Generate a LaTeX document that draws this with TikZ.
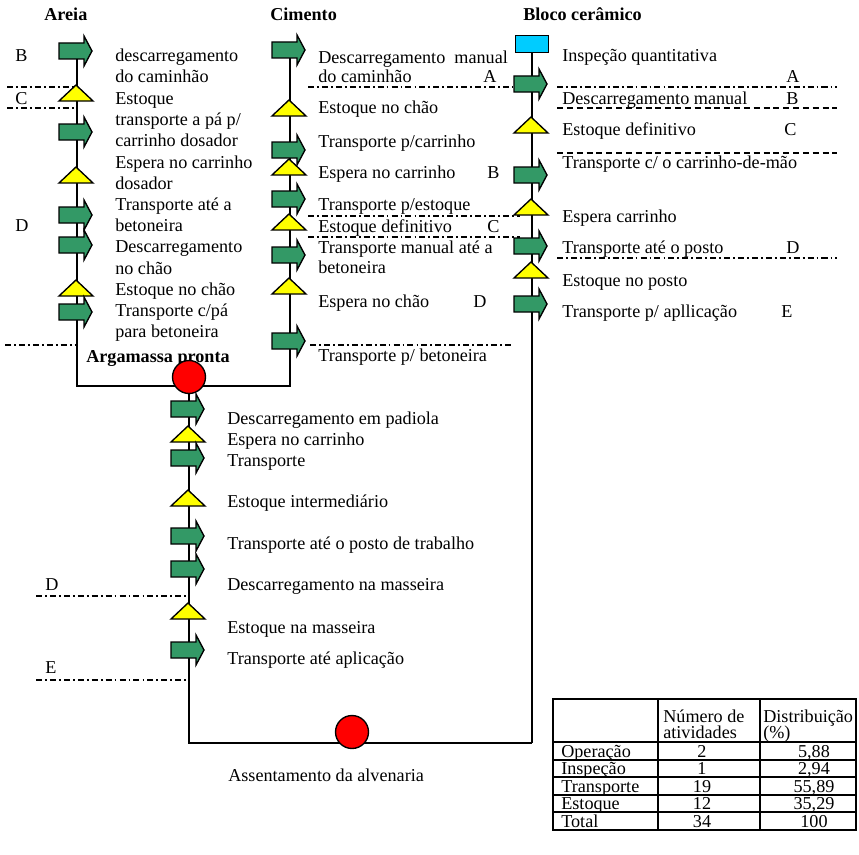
\documentclass[tikz,border=0pt]{standalone}
\usepackage{fontspec}
\setmainfont{Liberation Serif}
\usetikzlibrary{backgrounds}
\definecolor{movgreen}{RGB}{51,153,102}
\definecolor{stockyellow}{RGB}{255,255,0}
\definecolor{inspcyan}{RGB}{0,204,255}
\definecolor{opred}{RGB}{255,0,0}

\begin{document}
\begin{tikzpicture}[
    x=0.661pt, y=-0.661pt,
    every node/.style={font=\fontsize{12}{14}\selectfont},
    txt/.style={anchor=base west, inner sep=0pt},
    head/.style={txt, font=\fontsize{12}{14}\selectfont\bfseries},
    num/.style={anchor=base, inner sep=0pt},
    flow/.style={line width=1.2pt},
    cut/.style={line width=1.2pt, dash pattern=on 4pt off 2pt on 1.2pt off 2pt},
    cutdash/.style={line width=1.2pt, dash pattern=on 4pt off 2.5pt},
    grid/.style={line width=0.8pt},
    op/.style={circle, draw, fill=opred, line width=0.9pt, minimum size=21.8pt, inner sep=0pt},
    insp/.style={rectangle, draw, fill=inspcyan, line width=0.9pt, minimum width=21.8pt, minimum height=11.2pt, inner sep=0pt},
    mov/.pic={\draw[fill=movgreen, line width=0.9pt] (-18,-8) -- (7,-8) -- (7,-15) -- (15,0) -- (7,15) -- (7,8) -- (-18,8) -- cycle;},
    stock/.pic={\draw[fill=stockyellow, line width=0.9pt] (-18,8) -- (16,8) -- (-1,-8) -- cycle;}
]
\useasboundingbox (0,0) rectangle (859,854);

% Titles
\node[head] (tAreia) at (44,21) {Areia};
\node[head] (tCimento) at (270,21) {Cimento};
\node[head] (tBloco) at (523,21) {Bloco cerâmico};

% Areia column
\coordinate (a1) at (77,51);  \coordinate (a2) at (77,93);  \coordinate (a3) at (77,132);
\coordinate (a4) at (77,175); \coordinate (a5) at (77,215); \coordinate (a6) at (77,245);
\coordinate (a7) at (77,288); \coordinate (a8) at (77,312); \coordinate (aEnd) at (77,386);
\pic at (a1) {mov}; \pic at (a2) {stock}; \pic at (a3) {mov}; \pic at (a4) {stock};
\pic at (a5) {mov}; \pic at (a6) {mov}; \pic at (a7) {stock}; \pic at (a8) {mov};

\node[txt] (ta1) at (115,62) {descarregamento};
\node[txt] (ta2) at (115,83) {do caminhão};
\node[txt] (ta3) at (115,104) {Estoque};
\node[txt] (ta4) at (115,125) {transporte a pá p/};
\node[txt] (ta5) at (115,146) {carrinho dosador};
\node[txt] (ta6) at (115,168) {Espera no carrinho};
\node[txt] (ta7) at (115,189) {dosador};
\node[txt] (ta8) at (115,210) {Transporte até a};
\node[txt] (ta9) at (115,231) {betoneira};
\node[txt] (ta10) at (115,252) {Descarregamento};
\node[txt] (ta11) at (115,274) {no chão};
\node[txt] (ta12) at (115,295) {Estoque no chão};
\node[txt] (ta13) at (115,316) {Transporte c/pá};
\node[txt] (ta14) at (115,337) {para betoneira};
\node[txt] (la1) at (15,62) {B};
\node[txt] (la2) at (15,104) {C};
\node[txt] (la3) at (15,231) {D};
\draw[cut] (7,87) -- (75,87);
\draw[cut] (7,108) -- (75,108);
\draw[cut] (5,345) -- (75,345);

% Cimento column
\coordinate (c1) at (290,50);  \coordinate (c2) at (290,108); \coordinate (c3) at (290,150);
\coordinate (c4) at (290,167); \coordinate (c5) at (290,199); \coordinate (c6) at (290,222);
\coordinate (c7) at (290,255); \coordinate (c8) at (290,286); \coordinate (c9) at (290,341);
\coordinate (cEnd) at (290,386);
\pic at (c1) {mov}; \pic at (c2) {stock}; \pic at (c3) {mov}; \pic at (c4) {stock};
\pic at (c5) {mov}; \pic at (c6) {stock}; \pic at (c7) {mov}; \pic at (c8) {stock};
\pic at (c9) {mov};

\node[txt] (tc1) at (318,63) {Descarregamento~ manual};
\node[txt] (tc2) at (318,83) {do caminhão};
\node[txt] (tc3) at (318,113) {Estoque no chão};
\node[txt] (tc4) at (318,147) {Transporte p/carrinho};
\node[txt] (tc5) at (318,178) {Espera no carrinho};
\node[txt] (tc6) at (318,210) {Transporte p/estoque};
\node[txt] (tc7) at (318,232) {Estoque definitivo};
\node[txt] (tc8) at (318,253) {Transporte manual até a};
\node[txt] (tc9) at (318,273) {betoneira};
\node[txt] (tc10) at (318,307) {Espera no chão};
\node[txt] (tc11) at (318,361) {Transporte p/ betoneira};
\node[txt] (lc1) at (483,83) {A};
\node[txt] (lc2) at (487,178) {B};
\node[txt] (lc3) at (487,232) {C};
\node[txt] (lc4) at (473,307) {D};
\draw[cut] (308,87) -- (513,87);
\draw[cut] (308,216) -- (520,216);
\draw[cut] (308,237) -- (520,237);
\draw[cut] (310,345) -- (513,345);

% Bloco ceramico column
\coordinate (r2) at (532,84);  \coordinate (r3) at (532,125); \coordinate (r4) at (532,175);
\coordinate (r5) at (532,207); \coordinate (r6) at (532,246); \coordinate (r7) at (532,270);
\coordinate (r8) at (532,304); \coordinate (rEnd) at (532,743);
\node[insp] (r1) at (532,44) {};
\pic at (r2) {mov}; \pic at (r3) {stock}; \pic at (r4) {mov}; \pic at (r5) {stock};
\pic at (r6) {mov}; \pic at (r7) {stock}; \pic at (r8) {mov};

\node[txt] (tr1) at (562,61) {Inspeção quantitativa};
\node[txt] (tr2) at (562,104) {Descarregamento manual};
\node[txt] (tr3) at (562,135) {Estoque definitivo};
\node[txt] (tr4) at (562,168) {Transporte c/ o carrinho-de-mão};
\node[txt] (tr5) at (562,222) {Espera carrinho};
\node[txt] (tr6) at (562,253) {Transporte até o posto};
\node[txt] (tr7) at (562,286) {Estoque no posto};
\node[txt] (tr8) at (562,317) {Transporte p/ apllicação};
\node[txt] (lr1) at (786,82) {A};
\node[txt] (lr2) at (786,104) {B};
\node[txt] (lr3) at (784,135) {C};
\node[txt] (lr4) at (786,253) {D};
\node[txt] (lr5) at (781,317) {E};
\draw[cut] (557,87) -- (837,87);
\draw[cutdash] (557,108) -- (837,108);
\draw[cutdash] (557,153) -- (837,153);
\draw[cut] (557,258) -- (837,258);

% Argamassa pronta
\node[head] (tMix) at (86,362) {Argamassa pronta};
\coordinate (mJoin) at (189,386);
\node[op] (mix) at (189,377) {};
\coordinate (m1) at (189,409); \coordinate (m2) at (189,434); \coordinate (m3) at (189,458);
\coordinate (m4) at (189,498); \coordinate (m5) at (189,536); \coordinate (m6) at (189,569);
\coordinate (m7) at (189,611); \coordinate (m8) at (189,650); \coordinate (mEnd) at (189,743);
\pic at (m1) {mov}; \pic at (m2) {stock}; \pic at (m3) {mov}; \pic at (m4) {stock};
\pic at (m5) {mov}; \pic at (m6) {mov}; \pic at (m7) {stock}; \pic at (m8) {mov};

\node[txt] (tm1) at (227,424) {Descarregamento em padiola};
\node[txt] (tm2) at (227,445) {Espera no carrinho};
\node[txt] (tm3) at (227,466) {Transporte};
\node[txt] (tm4) at (227,507) {Estoque intermediário};
\node[txt] (tm5) at (227,549) {Transporte até o posto de trabalho};
\node[txt] (tm6) at (227,590) {Descarregamento na masseira};
\node[txt] (tm7) at (227,633) {Estoque na masseira};
\node[txt] (tm8) at (227,664) {Transporte até aplicação};
\node[txt] (lm1) at (45,590) {D};
\node[txt] (lm2) at (45,673) {E};
\draw[cut] (36,596) -- (189,596);
\draw[cut] (36,680) -- (189,680);

% Assentamento
\node[op] (wall) at (352,732) {};
\node[txt] (tWall) at (228,781) {Assentamento da alvenaria};

% Flow lines
\begin{scope}[on background layer]
\draw[flow] (a1) -- (aEnd) -- (cEnd) -- (c1);
\draw[flow] (mJoin) -- (mEnd) -- (rEnd);
\draw[line width=0.9pt] (rEnd) -- (r1.center);
\end{scope}

% Summary table
\draw[grid] (553,699) rectangle (856,830);
\draw[grid] (658,699) -- (658,830) (760,699) -- (760,830);
\draw[grid] (553,742) -- (856,742) (553,760) -- (856,760) (553,777) -- (856,777)
            (553,795) -- (856,795) (553,812) -- (856,812);
\node[txt] (hNum1) at (663,722) {Número de};
\node[txt] (hNum2) at (663,738) {atividades};
\node[txt] (hDist1) at (763,722) {Distribuição};
\node[txt] (hDist2) at (763,738) {(\%)};
\node[txt] (rOp) at (561,757) {Operação};
\node[txt] (rIn) at (561,774) {Inspeção};
\node[txt] (rTr) at (561,792) {Transporte};
\node[txt] (rEs) at (561,809) {Estoque};
\node[txt] (rTo) at (561,827) {Total};
\node[num] (nOp) at (702,757) {2};
\node[num] (nIn) at (702,774) {1};
\node[num] (nTr) at (702,792) {19};
\node[num] (nEs) at (702,809) {12};
\node[num] (nTo) at (702,827) {34};
\node[num] (pOp) at (814,757) {5,88};
\node[num] (pIn) at (814,774) {2,94};
\node[num] (pTr) at (814,792) {55,89};
\node[num] (pEs) at (814,809) {35,29};
\node[num] (pTo) at (814,827) {100};

\end{tikzpicture}
\end{document}
